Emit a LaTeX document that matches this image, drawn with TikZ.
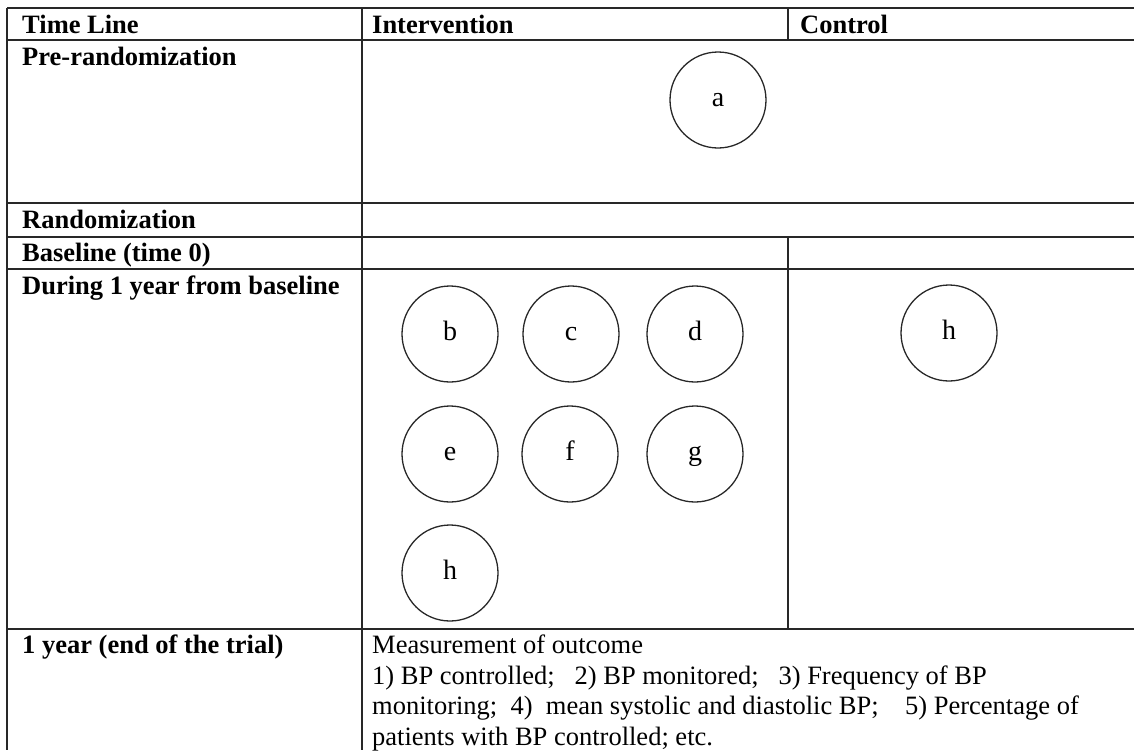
\documentclass[tikz,border=0pt]{standalone}
\usepackage{fontspec}
\setmainfont{Liberation Serif}
\definecolor{ruleink}{RGB}{40,40,40}
\begin{document}
\begin{tikzpicture}[x=1pt,y=-1pt,
    rule/.style={ruleink,line width=1.5pt},
    rowhead/.style={anchor=base west,inner sep=0pt,font=\fontsize{26.5}{31}\selectfont\bfseries},
    celltext/.style={anchor=base west,inner sep=0pt,font=\fontsize{26.5}{31}\selectfont},
    stage/.style={circle,draw=ruleink,line width=1.3pt,minimum size=96pt,inner sep=0pt,
      text height=12pt,text depth=0pt,font=\fontsize{28}{32}\selectfont}]
  \useasboundingbox (0,0) rectangle (1134,750);

  % table rules
  \foreach \y in {8,40,203,237,269,629}
    \draw[rule] (7,\y) -- (1134,\y);
  \draw[rule] (7,8) -- (7,750);
  \draw[rule] (362,8) -- (362,750);
  \draw[rule] (788,8) -- (788,40);
  \draw[rule] (788,237) -- (788,629);

  % header
  \node[rowhead] (timeline) at (22,33) {Time Line};
  \node[rowhead] (interv) at (372,33) {Intervention};
  \node[rowhead] (control) at (800,33) {Control};

  % stages of the trial
  \node[rowhead] (prerand) at (22,65) {Pre-randomization};
  \node[rowhead] (rand) at (22,228) {Randomization};
  \node[rowhead] (base) at (22,261) {Baseline (time 0)};
  \node[rowhead] (during) at (22,294) {During 1 year from baseline};
  \node[rowhead] (endtrial) at (22,653) {1 year (end of the trial)};

  % components
  \node[stage] (a) at (718,100) {a};
  \node[stage] (b) at (450,334) {b};
  \node[stage] (c) at (571,334) {c};
  \node[stage] (d) at (695,334) {d};
  \node[stage] (e) at (450,454) {e};
  \node[stage] (f) at (570,454) {f};
  \node[stage] (g) at (695,454) {g};
  \node[stage] (h) at (450,573) {h};
  \node[stage] (hctrl) at (949,333) {h};

  % outcome
  \node[celltext] (outcome1) at (372,653) {Measurement of outcome};
  \node[celltext] (outcome2) at (372,684) {1) BP controlled;\hspace{0.75em}2) BP monitored;\hspace{0.75em}3) Frequency of BP};
  \node[celltext] (outcome3) at (372,714) {monitoring;\hspace{0.5em}4)\hspace{0.5em}mean systolic and diastolic BP;\hspace{1em}5) Percentage of};
  \node[celltext] (outcome4) at (372,745) {patients with BP controlled; etc.};
\end{tikzpicture}
\end{document}
